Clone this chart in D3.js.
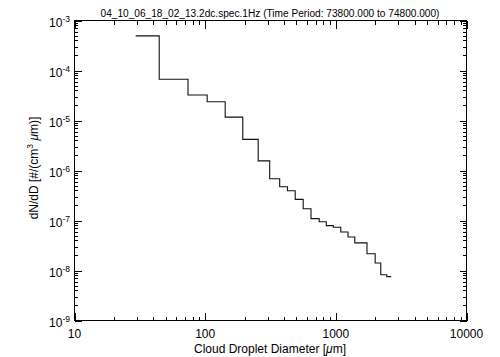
<!DOCTYPE html>
<html><head><meta charset="utf-8">
<script src="https://cdn.jsdelivr.net/npm/d3@7"></script>
<style>body{margin:0;background:#fff}svg{display:block}text{font-family:"Liberation Sans",Arial,sans-serif;fill:#000}</style>
</head><body>
<svg id="c" width="500" height="357"></svg>
<script>
// Bin edges (Cloud droplet diameter, µm)
const binEdges = [29.4, 44.5, 73.9, 103.6, 142.3, 194, 254.6, 311.8, 371.8, 426.6, 488.7, 562.6, 645.6, 745.8, 845.6, 956, 1091, 1239, 1397, 1732, 2000, 2208, 2455, 2653];
// dN/dD per bin
const dNdD = [4.93e-4, 6.68e-5, 3.24e-5, 2.37e-5, 1.17e-5, 4.19e-6, 1.56e-6, 6.86e-7, 4.74e-7, 3.94e-7, 2.64e-7, 1.72e-7, 1.09e-7, 9.43e-8, 7.91e-8, 7.31e-8, 5.89e-8, 4.68e-8, 3.57e-8, 2.17e-8, 1.41e-8, 8.24e-9, 7.55e-9];
const xTicks = [10, 100, 1000, 10000];
const yExps = [-3, -4, -5, -6, -7, -8, -9];
const titleText = "04_10_06_18_02_13.2dc.spec.1Hz (Time Period: 73800.000 to 74800.000)";
const xTitle = "Cloud Droplet Diameter [";
const yTitle = "dN/dD [#/(cm";

const svg = d3.select("#c");
const x = d3.scaleLog().domain([10, 10000]).range([74.5, 466.5]);
const y = d3.scaleLog().domain([1e-9, 1e-3]).range([320.5, 20.5]);

const xMinor = [];
for (let d = 10; d < 10000; d *= 10) for (let k = 2; k <= 9; k++) xMinor.push(d * k);
const yMinor = [];
for (let e = -9; e < -3; e++) for (let k = 2; k <= 9; k++) yMinor.push(k * Math.pow(10, e));
const yMajor = yExps.map(e => Math.pow(10, e));

function ax(gen, tv, size, tr) {
  const g = svg.append("g").attr("transform", tr)
    .call(gen.tickValues(tv).tickSize(size).tickFormat(""));
  g.select(".domain").remove();
  g.selectAll("line").attr("stroke", "#000").attr("stroke-width", 1).attr("shape-rendering", "crispEdges");
}
ax(d3.axisBottom(x), xTicks, -8, "translate(0,320.5)");
ax(d3.axisBottom(x), xMinor, -4, "translate(0,320.5)");
ax(d3.axisTop(x), xTicks, -8, "translate(0,20.5)");
ax(d3.axisTop(x), xMinor, -4, "translate(0,20.5)");
ax(d3.axisLeft(y), yMajor, -7, "translate(74.5,0)");
ax(d3.axisLeft(y), yMinor, -3.5, "translate(74.5,0)");
ax(d3.axisRight(y), yMajor, -7, "translate(466.5,0)");
ax(d3.axisRight(y), yMinor, -3.5, "translate(466.5,0)");

svg.append("rect").attr("x", 74.5).attr("y", 20.5).attr("width", 392).attr("height", 300)
  .attr("fill", "none").attr("stroke", "#000").attr("shape-rendering", "crispEdges");

// step line
const pts = dNdD.map((v, i) => [binEdges[i], v]);
pts.push([binEdges[binEdges.length - 1], dNdD[dNdD.length - 1]]);
svg.append("path").datum(pts)
  .attr("d", d3.line().x(d => x(d[0])).y(d => y(d[1])).curve(d3.curveStepAfter))
  .attr("fill", "none").attr("stroke", "#111").attr("stroke-width", 1.1);

// x tick labels
svg.selectAll(".xl").data(xTicks).enter().append("text")
  .attr("x", d => x(d)).attr("y", 338).attr("text-anchor", "middle")
  .attr("font-size", 12).text(d => d);

// y tick labels
yExps.forEach(e => {
  const t = svg.append("text").attr("x", 70).attr("y", y(Math.pow(10, e)) + 6.5)
    .attr("text-anchor", "end").attr("font-size", 12);
  t.append("tspan").text("10");
  t.append("tspan").attr("font-size", 8.5).attr("dy", -5).text("-" + (-e));
});

// title
svg.append("text").attr("x", 270).attr("y", 17).attr("text-anchor", "middle")
  .attr("font-size", 10).attr("textLength", 339).attr("lengthAdjust", "spacingAndGlyphs").text(titleText);

// x title
const xt = svg.append("text").attr("x", 270).attr("y", 353).attr("text-anchor", "middle").attr("font-size", 12);
xt.append("tspan").text(xTitle);
xt.append("tspan").attr("font-style", "italic").text("\u03bc");
xt.append("tspan").text("m]");

// y title
const yt = svg.append("text").attr("transform", "translate(38,168) rotate(-90)")
  .attr("text-anchor", "middle").attr("font-size", 12);
yt.append("tspan").text(yTitle);
yt.append("tspan").attr("font-size", 8.5).attr("dy", -5).text("3");
yt.append("tspan").attr("dy", 5).text(" ");
yt.append("tspan").attr("font-style", "italic").text("\u03bc");
yt.append("tspan").text("m)]");
</script>
</body></html>
